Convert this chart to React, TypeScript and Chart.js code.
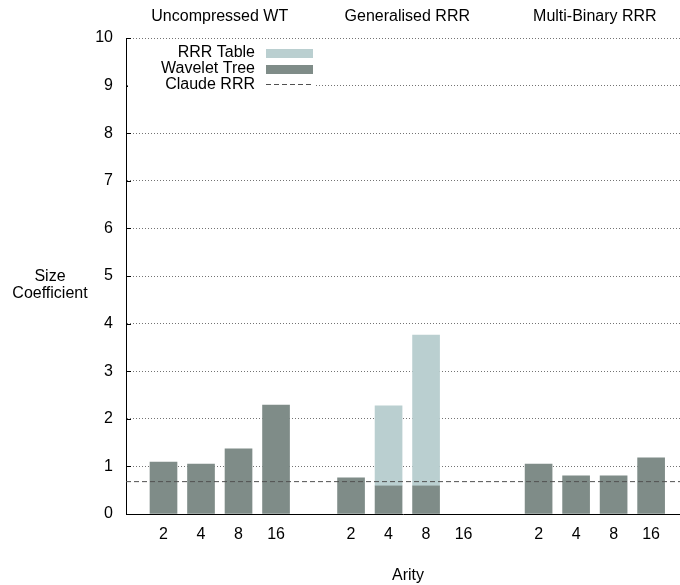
import React, { useEffect, useRef } from "react";
import { Chart, registerables } from "chart.js";

Chart.register(...registerables);

const groups = ["Uncompressed WT", "Generalised RRR", "Multi-Binary RRR"];
const arities = ["2", "4", "8", "16"];
// values per group, per arity (null = no bar)
const waveletTree: (number | null)[] = [1.09, 1.05, 1.37, 2.29, 0.76, 0.59, 0.59, null, 1.05, 0.8, 0.8, 1.18];
const rrrTableExtra: (number | null)[] = [null, null, null, null, null, 1.68, 3.17, null, null, null, null, null];
const claudeRRR = 0.68;
const yTicks = [0, 1, 2, 3, 4, 5, 6, 7, 8, 9, 10];
const seriesLabels = ["RRR Table", "Wavelet Tree", "Claude RRR"];

const LIGHT = "rgb(186,207,208)";
const DARK = "rgb(127,140,136)";
const LINE = "rgb(80,80,80)";
const FONT = "'Liberation Sans', Arial, Helvetica, sans-serif";
const FS = 16;

const slot = (g: number, i: number) => g * 5 + i + 1;
const X_MAX = 14.77;

const pts = (vals: (number | null)[]) =>
  vals.map((v, k) => ({ x: slot(Math.floor(k / 4), k % 4), y: v }));

const tickPositions: number[] = [];
groups.forEach((_, g) => arities.forEach((_, i) => tickPositions.push(slot(g, i))));

const decorPlugin = {
  id: "decor",
  afterDraw(chart: any) {
    const { ctx, scales, chartArea } = chart;
    const x = scales.x;
    const y = scales.y;
    ctx.save();
    // inward ticks on y axis
    ctx.strokeStyle = "#000";
    ctx.lineWidth = 1;
    yTicks.forEach((t) => {
      const py = Math.round(y.getPixelForValue(t)) + 0.5;
      ctx.beginPath();
      ctx.moveTo(chartArea.left, py);
      ctx.lineTo(chartArea.left + 5, py);
      ctx.stroke();
    });
    // group titles
    ctx.fillStyle = "#000";
    ctx.font = `${FS}px ${FONT}`;
    ctx.textAlign = "center";
    ctx.textBaseline = "middle";
    groups.forEach((g, gi) => {
      const px = x.getPixelForValue(gi * 5 + 2.5);
      ctx.fillText(g, px, 17);
    });
    // axis titles
    ctx.fillText("Size", 50, 277);
    ctx.fillText("Coefficient", 50, 294);
    ctx.fillText("Arity", 408, 576);
    // legend
    const ds = chart.data.datasets;
    ctx.fillStyle = "#fff";
    ctx.fillRect(chartArea.left + 2, 42, 314 - chartArea.left - 2, 50);
    const rows = [53, 69, 85];
    const sx0 = 266;
    const sx1 = 313;
    ctx.textAlign = "right";
    rows.forEach((ry, k) => {
      ctx.fillStyle = "#000";
      ctx.fillText(seriesLabels[k], 255, ry);
      if (k < 2) {
        ctx.fillStyle = k === 0 ? ds[1].backgroundColor : ds[0].backgroundColor;
        ctx.fillRect(sx0, ry - 4, sx1 - sx0, 9);
      } else {
        ctx.strokeStyle = LINE;
        ctx.setLineDash([5, 3]);
        ctx.beginPath();
        ctx.moveTo(sx0, ry - 0.5);
        ctx.lineTo(sx1, ry - 0.5);
        ctx.stroke();
        ctx.setLineDash([]);
      }
    });
    ctx.restore();
  },
};

export default function App() {
  const ref = useRef<HTMLCanvasElement | null>(null);
  useEffect(() => {
    if (!ref.current) return;
    const chart = new Chart(ref.current, {
      type: "bar",
      data: {
        datasets: [
          {
            type: "bar",
            label: seriesLabels[1],
            data: pts(waveletTree) as any,
            backgroundColor: DARK,
            barThickness: 27,
            order: 2,
          },
          {
            type: "bar",
            label: seriesLabels[0],
            data: pts(rrrTableExtra) as any,
            backgroundColor: LIGHT,
            barThickness: 27,
            order: 2,
          },
          {
            type: "line",
            label: seriesLabels[2],
            data: [
              { x: 0, y: claudeRRR },
              { x: X_MAX, y: claudeRRR },
            ] as any,
            borderColor: LINE,
            borderWidth: 1,
            borderDash: [5, 3],
            pointRadius: 0,
            order: 0,
          },
        ],
      },
      options: {
        animation: false,
        responsive: true,
        maintainAspectRatio: false,
        layout: { padding: { top: 38, left: 0, right: 0, bottom: 0 } },
        plugins: { legend: { display: false }, tooltip: { enabled: false } },
        scales: {
          x: {
            type: "linear",
            min: 0,
            max: X_MAX,
            offset: false,
            stacked: true,
            grid: { display: false, drawTicks: false, offset: false },
            border: { display: true, color: "#000", width: 1 },
            afterBuildTicks: (s: any) => {
              s.ticks = tickPositions.map((v) => ({ value: v }));
            },
            afterFit: (s: any) => {
              s.height = 71;
            },
            ticks: {
              autoSkip: false,
              maxRotation: 0,
              padding: 11,
              color: "#000",
              font: { family: FONT, size: FS },
              callback: (v: any) => {
                const k = tickPositions.indexOf(Number(v));
                return k >= 0 ? arities[k % 4] : "";
              },
            },
          },
          y: {
            type: "linear",
            min: 0,
            max: 10,
            stacked: true,
            afterBuildTicks: (s: any) => {
              s.ticks = yTicks.map((v) => ({ value: v }));
            },
            afterFit: (s: any) => {
              s.width = 126;
            },
            grid: {
              drawTicks: false,
              lineWidth: 1,
              color: (c: any) => (c.tick && c.tick.value === 0 ? "rgba(0,0,0,0)" : "rgba(0,0,0,0.55)"),
            },
            border: { display: true, color: "#000", width: 1, dash: [1, 2] },
            ticks: {
              padding: 13,
              color: "#000",
              font: { family: FONT, size: FS },
            },
          },
        },
      },
      plugins: [decorPlugin],
    });
    return () => chart.destroy();
  }, []);
  return (
    <div style={{ position: "absolute", left: 0, top: 0, width: 680, height: 585, background: "#fff" }}>
      <canvas ref={ref} />
    </div>
  );
}
